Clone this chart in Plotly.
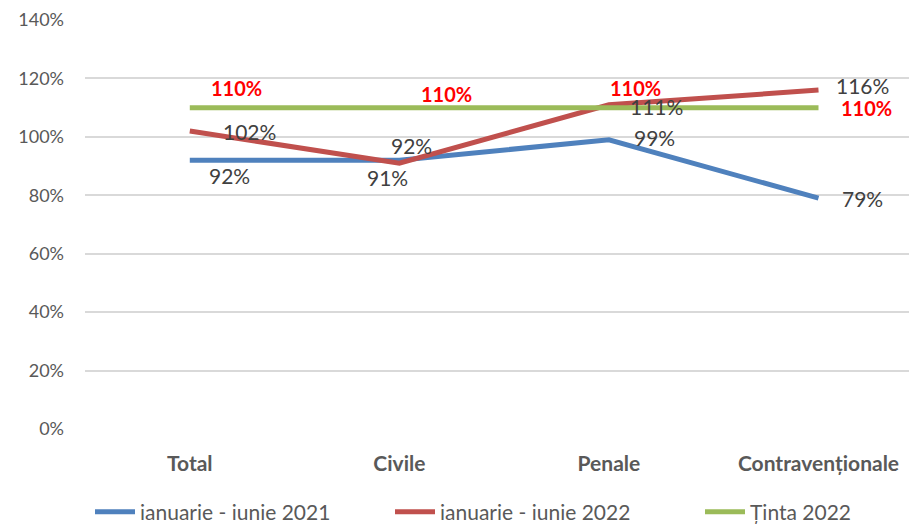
import plotly.graph_objects as go

categories = ["Total", "Civile", "Penale", "Contravenționale"]
s2021 = [92, 92, 99, 79]
s2022 = [102, 91, 111, 116]
tinta = [110, 110, 110, 110]
names = ["ianuarie - iunie 2021", "ianuarie - iunie 2022", "Ținta 2022"]
colors = ["#4f81bd", "#c0504d", "#9bbb59"]
yticks = [0, 20, 40, 60, 80, 100, 120, 140]

# label pixel offsets (xshift, yshift) per series / point
off2021 = [(40, -15), (12, 15), (46, 2), (44, 0)]
off2022 = [(60, 0), (-12, -14), (48, -2), (44, 5)]
offT = [(47, 20), (47, 14), (27, 20), (48, 0)]

FONT = "Lato, Carlito, Liberation Sans, sans-serif"
W, H = 909, 516  # page body has an 8px margin

fig = go.Figure()
legends = ["legend", "legend", "legend2"]
for vals, name, col, lg in zip([s2021, s2022, tinta], names, colors, legends):
    fig.add_trace(go.Scatter(x=categories, y=vals, mode="lines", name=name,
                             line=dict(color=col, width=5), legend=lg))

for vals, offs, isT in [(s2021, off2021, False), (s2022, off2022, False), (tinta, offT, True)]:
    for c, v, (dx, dy) in zip(categories, vals, offs):
        fig.add_annotation(x=c, y=v, text=f"{v}%", showarrow=False,
                           xshift=dx, yshift=dy,
                           font=dict(family=FONT, size=20 if isT else 21,
                                     color="#ff0000" if isT else "#404040",
                                     weight="bold" if isT else "normal"))

legend_common = dict(orientation="h", xref="container", xanchor="left",
                     y=12 / H, yref="container", yanchor="middle",
                     font=dict(size=21, color="#595959"),
                     itemwidth=40, bgcolor="rgba(0,0,0,0)")

fig.update_layout(
    width=W, height=H,
    margin=dict(l=77, r=0, t=12, b=95, autoexpand=False),
    paper_bgcolor="white", plot_bgcolor="white",
    font=dict(family=FONT, color="#595959"),
    showlegend=True,
    legend=dict(x=82 / W, entrywidth=245, entrywidthmode="pixels", **legend_common),
    legend2=dict(x=692 / W, **legend_common),
    xaxis=dict(range=[-0.5, 3.47], showgrid=False, zeroline=False, showline=False,
               tickfont=dict(size=21, color="#595959", weight="bold"),
               ticks="", ticklabelstandoff=20, automargin=False),
    yaxis=dict(range=[0, 140], tickvals=yticks, ticktext=[f"{t}%" for t in yticks],
               showgrid=True, gridcolor="#d9d9d9", gridwidth=2, zeroline=False,
               showline=False, tickfont=dict(size=18, color="#595959"),
               ticks="", ticklabelstandoff=20, automargin=False),
)

fig.write_html("out.html")
